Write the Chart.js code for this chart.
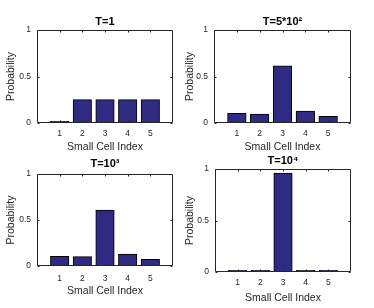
<!DOCTYPE html>
<html>
<head>
<meta charset="utf-8">
<script src="https://cdn.jsdelivr.net/npm/chart.js@4/dist/chart.umd.min.js"></script>
<style>
  html, body { margin: 0; padding: 0; background: #fff; }
  #wrap { position: relative; width: 374px; height: 308px; overflow: hidden; background: #fff; }
  .panel { position: absolute; }
</style>
</head>
<body>
<div id="wrap">
  <div class="panel" id="p1"><canvas id="c1"></canvas></div>
  <div class="panel" id="p2"><canvas id="c2"></canvas></div>
  <div class="panel" id="p3"><canvas id="c3"></canvas></div>
  <div class="panel" id="p4"><canvas id="c4"></canvas></div>
</div>
<script>
// ---- data ----
const cellIndex = [1, 2, 3, 4, 5];
const probT1 = [0.015, 0.25, 0.25, 0.25, 0.25];
const probT500 = [0.102, 0.095, 0.613, 0.127, 0.07];
const probT1000 = [0.104, 0.1, 0.607, 0.128, 0.072];
const probT10000 = [0.014, 0.014, 0.958, 0.014, 0.014];
const yTicks = [0, 0.5, 1];
const xRange = [0, 6];
const titles = ['T=1', 'T=5*10\u00B2', 'T=10\u00B3', 'T=10\u2074'];
const xLabel = 'Small Cell Index';
const yLabel = 'Probability';

// ---- layout (positions only) ----
const panels = [
  { id: 'c1', box: 'p1', values: probT1,     title: titles[0], left: 0,   top: 0,   w: 187, h: 154, yW: 37, rPad: 14, tH: 30, tTop: 15.4, xH: 31, xlPad: 0.7, tickPad: 6, yTitlePad: 4.7 },
  { id: 'c2', box: 'p2', values: probT500,   title: titles[1], left: 180, top: 0,   w: 194, h: 154, yW: 34, rPad: 23, tH: 30, tTop: 15.4, xH: 31, xlPad: 0.7, tickPad: 6, yTitlePad: 3.7 },
  { id: 'c3', box: 'p3', values: probT1000,  title: titles[2], left: 0,   top: 154, w: 187, h: 154, yW: 37, rPad: 14, tH: 20, tTop: 2.9,  xH: 42, xlPad: 11,  tickPad: 8, yTitlePad: 4.7 },
  { id: 'c4', box: 'p4', values: probT10000, title: titles[3], left: 180, top: 154, w: 194, h: 154, yW: 35, rPad: 23, tH: 15, tTop: 0.1,  xH: 36, xlPad: 3.7, tickPad: 6, yTitlePad: 3.7 }
];

const FONT = "'Liberation Sans', Arial, Helvetica, sans-serif";
const TEXT = '#262626';
const TITLE_SIZE = 11;

const framePlugin = {
  id: 'matlabFrame',
  afterDraw(chart) {
    const { ctx, chartArea: a, scales } = chart;
    const L = Math.round(a.left) + 0.5, R = Math.round(a.right) - 0.5;
    const T = Math.round(a.top) + 0.5, B = Math.round(a.bottom) - 0.5;
    ctx.save();
    ctx.strokeStyle = TEXT;
    ctx.lineWidth = 1;
    ctx.beginPath();
    ctx.rect(L, T, R - L, B - T);
    ctx.stroke();
    const tl = 2;
    ctx.beginPath();
    cellIndex.forEach(v => {
      const x = Math.round(scales.x.getPixelForValue(v)) + 0.5;
      ctx.moveTo(x, B); ctx.lineTo(x, B - tl);
      ctx.moveTo(x, T); ctx.lineTo(x, T + tl);
    });
    yTicks.forEach(v => {
      const y = Math.round(scales.y.getPixelForValue(v)) + 0.5;
      ctx.moveTo(L, y); ctx.lineTo(L + tl, y);
      ctx.moveTo(R, y); ctx.lineTo(R - tl, y);
    });
    ctx.stroke();
    ctx.restore();
  }
};

panels.forEach(p => {
  const box = document.getElementById(p.box);
  box.style.left = p.left + 'px';
  box.style.top = p.top + 'px';
  box.style.width = p.w + 'px';
  box.style.height = p.h + 'px';
  const th = TITLE_SIZE * 1.2;
  new Chart(document.getElementById(p.id), {
    type: 'bar',
    data: {
      datasets: [{
        data: cellIndex.map((x, i) => ({ x: x, y: p.values[i] })),
        backgroundColor: '#2f2b82',
        borderColor: '#000000',
        borderWidth: 1,
        borderSkipped: false,
        inflateAmount: 0.5,
        barPercentage: 0.8,
        categoryPercentage: 1.0
      }]
    },
    options: {
      responsive: true,
      maintainAspectRatio: false,
      animation: false,
      devicePixelRatio: 1,
      layout: { padding: { left: 0, right: p.rPad, top: 0, bottom: 0 } },
      plugins: {
        legend: { display: false },
        tooltip: { enabled: false },
        title: {
          display: true,
          fullSize: false,
          text: p.title,
          color: '#000',
          font: { family: FONT, size: TITLE_SIZE, weight: 'bold' },
          padding: { top: p.tTop, bottom: p.tH - p.tTop - th }
        }
      },
      scales: {
        x: {
          type: 'linear',
          min: xRange[0], max: xRange[1],
          offset: false,
          grid: { display: false, drawTicks: false, offset: false },
          border: { display: false },
          afterBuildTicks: s => { s.ticks = cellIndex.map(v => ({ value: v })); },
          afterFit: s => { s.height = p.xH; },
          ticks: { color: TEXT, padding: p.tickPad, font: { family: FONT, size: 8.5 }, maxRotation: 0, callback: v => String(v) },
          title: { display: true, text: xLabel, color: TEXT, font: { family: FONT, size: 10.5 }, padding: { top: 0, bottom: p.xlPad } }
        },
        y: {
          min: 0, max: 1,
          grid: { display: false, drawTicks: false },
          border: { display: false },
          afterBuildTicks: s => { s.ticks = yTicks.map(v => ({ value: v })); },
          afterFit: s => { s.width = p.yW; },
          ticks: { color: TEXT, padding: 6, font: { family: FONT, size: 8.5 }, callback: v => String(v) },
          title: { display: true, text: yLabel, color: TEXT, font: { family: FONT, size: 10.5 }, padding: { top: p.yTitlePad, bottom: 0 } }
        }
      }
    },
    plugins: [framePlugin]
  });
});
</script>
</body>
</html>
